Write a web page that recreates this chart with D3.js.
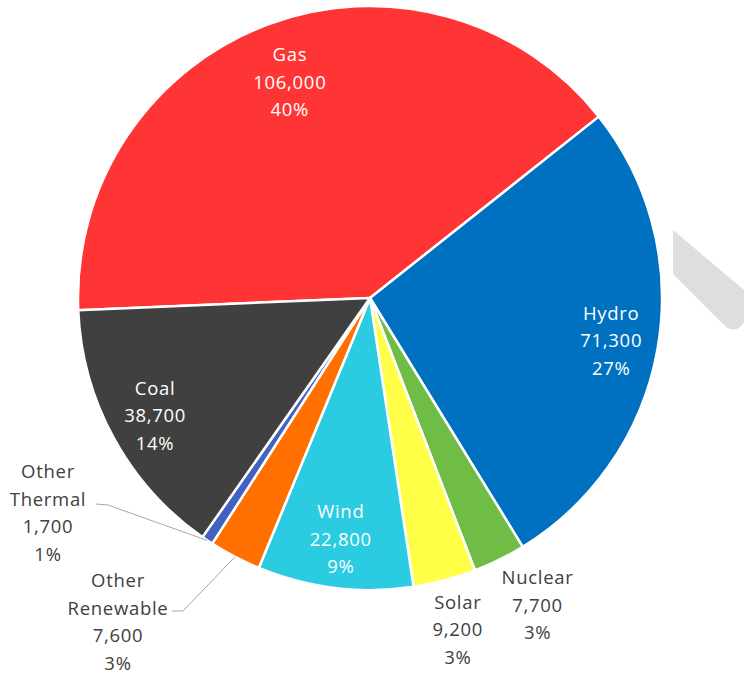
<!DOCTYPE html>
<html><head><meta charset="utf-8">
<script src="https://cdn.jsdelivr.net/npm/d3@7/dist/d3.min.js"></script>
<style>html,body{margin:0;padding:0;background:#fff;}svg{display:block;}</style>
</head><body>
<svg id="chart" width="744" height="674"></svg>
<script>
const categories = ["Gas", "Hydro", "Nuclear", "Solar", "Wind", "Other Renewable", "Other Thermal", "Coal"];
const values = [106000, 71300, 7700, 9200, 22800, 7600, 1700, 38700];
const percentLabels = ["40%", "27%", "3%", "3%", "9%", "3%", "1%", "14%"];
const colors = ["#FF3535", "#0070C0", "#70BD45", "#FFFF47", "#2BCBE1", "#FF7000", "#4262C2", "#404040"];

const svg = d3.select("#chart");
const cx = 370, cy = 298, R = 292;
const g = svg.append("g").attr("transform", `translate(${cx},${cy})`);

// watermark-like grey stroke
svg.append("path")
  .attr("d", "M673,230 L744,290 L744,322 Q737,334 726,327 L673,274 Z")
  .attr("fill", "#DEDEDE");

const start = -92.4 * Math.PI / 180;
const pie = d3.pie().sort(null).value(d => d.value).startAngle(start).endAngle(start + 2 * Math.PI);
const data = categories.map((c, i) => ({ name: c, value: values[i], pct: percentLabels[i], color: colors[i] }));
const arcs = pie(data);
const arc = d3.arc().innerRadius(0).outerRadius(R);

g.selectAll("path.slice").data(arcs).enter().append("path")
  .attr("class", "slice")
  .attr("d", arc)
  .attr("fill", d => d.data.color)
  .attr("stroke", "#fff")
  .attr("stroke-width", 2.5)
  .attr("stroke-linejoin", "round");

// label layout (styling): radius of label center, and text colour
const layout = {
  "Gas": { r: 230, inside: true },
  "Hydro": { r: 245, inside: true },
  "Coal": { r: 245, inside: true },
  "Wind": { r: 243, inside: true },
  "Solar": { r: 343 },
  "Nuclear": { r: 350, dAngle: -2.3 },
  "Other Renewable": { pos: [118, 622], leader: [[183, 611], [172, 611]] },
  "Other Thermal": { pos: [48, 513], leader: [[108, 505], [96, 504]] }
};

const fmt = d3.format(",");
const lineH = 27.5;
const fontFamily = "'Open Sans', 'Noto Sans', sans-serif";

arcs.forEach(a => {
  const L = layout[a.data.name];
  const mid = (a.startAngle + a.endAngle) / 2;
  let x, y;
  if (L.pos) {
    x = L.pos[0] - cx; y = L.pos[1] - cy;
  } else {
    const ang = mid + (L.dAngle || 0) * Math.PI / 180;
    x = Math.sin(ang) * L.r; y = -Math.cos(ang) * L.r;
  }
  const nameLines = a.data.name.split(" ");
  const lines = nameLines.concat([fmt(a.data.value), a.data.pct]);
  const fill = L.inside ? "#ffffff" : "#404040";
  const t = g.append("text")
    .attr("text-anchor", "middle")
    .attr("font-family", fontFamily)
    .attr("font-size", 18.5)
    .attr("letter-spacing", 0.7)
    .attr("fill", fill);
  const n = lines.length;
  lines.forEach((s, i) => {
    t.append("tspan")
      .attr("x", x)
      .attr("y", y + (i - (n - 1) / 2) * lineH)
      .attr("dy", "0.35em")
      .text(s);
  });
  if (L.leader) {
    const ex = Math.sin(mid) * R, ey = -Math.cos(mid) * R;
    const pts = [[ex, ey]].concat(L.leader.map(p => [p[0] - cx, p[1] - cy]));
    g.append("path")
      .attr("d", d3.line()(pts))
      .attr("fill", "none")
      .attr("stroke", "#A6A6A6")
      .attr("stroke-width", 1);
  }
});
</script>
</body></html>
